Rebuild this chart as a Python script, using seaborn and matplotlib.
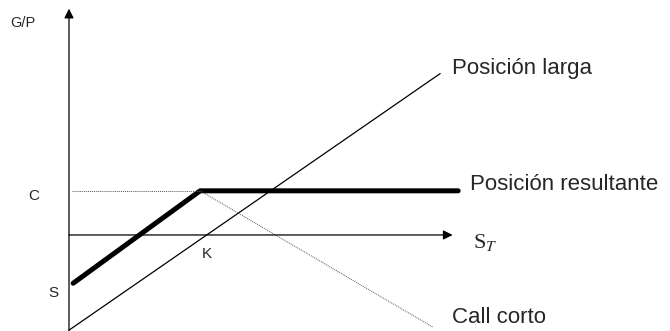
import matplotlib

matplotlib.use("Agg")
import matplotlib.pyplot as plt
import pandas as pd
import seaborn as sns

# payoff lines (K = 1 unit on the S_T axis)
st_long = [0.0, 2.69]
pl_long = [-0.69, 1.17]

st_res = [0.03, 0.95, 2.82]
pl_res = [-0.35, 0.32, 0.32]

st_call = [0.95, 2.64]
pl_call = [0.32, -0.67]

level_c = 0.32
strike_k = 1.0

sns.set_style("white")
plt.rcParams["font.family"] = ["Liberation Sans", "DejaVu Sans"]
plt.rcParams["mathtext.fontset"] = "stix"

fig = plt.figure(figsize=(6.7, 3.31), dpi=100)
ax = fig.add_axes([0, 0, 1, 1])
ax.set_xlim(-0.5, 4.355)
ax.set_ylim(-0.696, 1.703)
ax.axis("off")

long_df = pd.DataFrame({"st": st_long, "pl": pl_long})
res_df = pd.DataFrame({"st": st_res, "pl": pl_res})
call_df = pd.DataFrame({"st": st_call, "pl": pl_call})

sns.lineplot(data=long_df, x="st", y="pl", ax=ax, color="black", lw=0.9, sort=False)
sns.lineplot(data=res_df, x="st", y="pl", ax=ax, color="black", lw=3.6, sort=False)
sns.lineplot(data=call_df, x="st", y="pl", ax=ax, color="#555555", lw=0.7,
             ls=(0, (1, 1)), sort=False)
ax.plot([0.02, st_call[0]], [level_c, level_c], color="#555555", lw=0.7, ls=(0, (1, 1)))

# axes with arrows
ax.annotate("", xy=(0, 1.64), xytext=(0, -0.70),
            arrowprops=dict(arrowstyle="-|>", color="black", lw=0.9,
                            mutation_scale=14, shrinkA=0, shrinkB=0))
ax.annotate("", xy=(2.78, 0), xytext=(0, 0),
            arrowprops=dict(arrowstyle="-|>", color="black", lw=0.9,
                            mutation_scale=14, shrinkA=0, shrinkB=0))

ax.text(-0.428, 1.536, "G/P", fontsize=10.5, va="center", ha="left")
ax.text(-0.254, 0.283, "C", fontsize=11, va="center", ha="center")
ax.text(-0.116, -0.42, "S", fontsize=11, va="center", ha="center")
ax.text(strike_k, -0.138, "K", fontsize=11, va="center", ha="center")
ax.text(2.928, -0.058, r"S$_{\mathit{T}}$", fontsize=16, va="center", ha="left",
        family="Liberation Serif")

ax.text(2.775, 1.167, "Posición larga", fontsize=16, va="baseline", ha="left")
ax.text(2.906, 0.326, "Posición resultante", fontsize=16, va="baseline", ha="left")
ax.text(2.775, -0.638, "Call corto", fontsize=16, va="baseline", ha="left")

fig.savefig("out.png", dpi=100)
